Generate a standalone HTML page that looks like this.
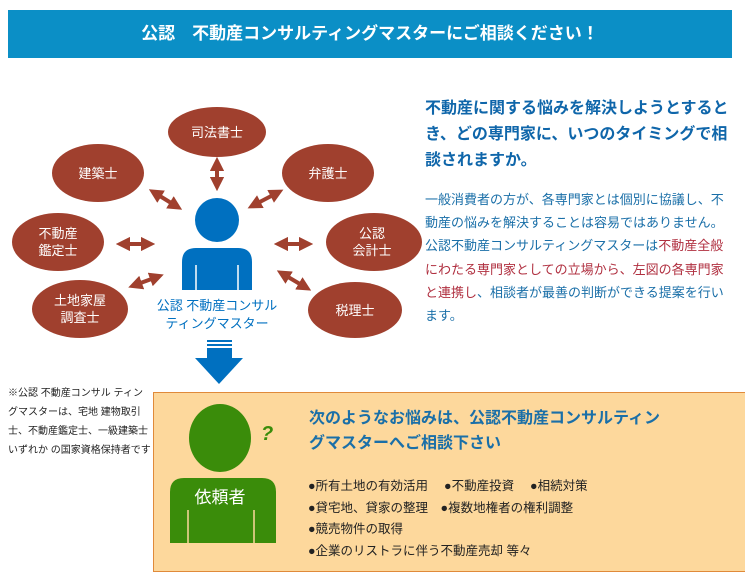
<!DOCTYPE html>
<html><head><meta charset="utf-8"><style>
body{margin:0;width:745px;height:584px;background:#fff;position:relative;overflow:hidden;font-family:"Liberation Sans","Noto Sans CJK JP",sans-serif}
.a{position:absolute;white-space:nowrap}
</style></head><body>
<div class="a" style="left:8px;top:10px;width:724px;height:48px;background:#0b8fc6;color:#fff;font-weight:bold;font-size:17px;line-height:48px;text-align:center">公認　不動産コンサルティングマスターにご相談ください！</div>
<svg class="a" style="left:0;top:0" width="745" height="584">
<defs><marker id="h" viewBox="0 0 10 10" refX="5" refY="5" markerWidth="3.6" markerHeight="3.6" orient="auto-start-reverse"><path d="M0,0L10,5L0,10z" fill="#a0402e"/></marker></defs>
<g fill="#a0402e">
<ellipse cx="217" cy="132" rx="49" ry="25"/>
<ellipse cx="98" cy="173" rx="46" ry="29"/>
<ellipse cx="328" cy="173" rx="46" ry="29"/>
<ellipse cx="58" cy="242" rx="46" ry="29"/>
<ellipse cx="374" cy="242" rx="48" ry="29"/>
<ellipse cx="80" cy="309" rx="48" ry="29"/>
<ellipse cx="355" cy="310" rx="47" ry="28"/>
</g>
<g stroke="#a0402e" stroke-width="4" marker-start="url(#h)" marker-end="url(#h)">
<line x1="217" y1="164" x2="217" y2="184"/>
<line x1="155" y1="193" x2="176" y2="206"/>
<line x1="254" y1="205" x2="277" y2="193"/>
<line x1="123" y1="244" x2="148" y2="244"/>
<line x1="281" y1="244" x2="306" y2="244"/>
<line x1="135" y1="285" x2="157" y2="277"/>
<line x1="283" y1="274" x2="305" y2="287"/>
</g>
<g font-size="13" fill="#fff" text-anchor="middle">
<text x="217" y="137">司法書士</text>
<text x="98" y="178">建築士</text>
<text x="328" y="178">弁護士</text>
<text x="58" y="238">不動産</text><text x="58" y="255">鑑定士</text>
<text x="372" y="238">公認</text><text x="372" y="255">会計士</text>
<text x="80" y="305">土地家屋</text><text x="80" y="322">調査士</text>
<text x="355" y="315">税理士</text>
</g>
<circle cx="217" cy="220" r="22" fill="#0070c0"/>
<path d="M182,290V262Q182,248 196,248H238Q252,248 252,262V290Z" fill="#0070c0"/>
<line x1="196" y1="265" x2="196" y2="290" stroke="#fff" stroke-width="1.5"/>
<line x1="238" y1="265" x2="238" y2="290" stroke="#fff" stroke-width="1.5"/>
<g font-size="13" fill="#0070c0" text-anchor="middle">
<text x="217" y="310">公認 不動産コンサル</text><text x="217" y="328">ティングマスター</text>
</g>
<rect x="207" y="340" width="25" height="2" fill="#0070c0"/>
<rect x="207" y="344" width="25" height="2" fill="#0070c0"/>
<rect x="207" y="348" width="25" height="12" fill="#0070c0"/>
<path d="M195,358H243L219,384Z" fill="#0070c0"/>
<rect x="153.5" y="392.5" width="600" height="179" fill="#fdd89c" stroke="#e08a3a"/>
<ellipse cx="220" cy="438" rx="31" ry="34" fill="#3a8c0a"/>
<path d="M170,543V492Q170,478 184,478H262Q276,478 276,492V543Z" fill="#3a8c0a"/>
<line x1="188" y1="510" x2="188" y2="543" stroke="#fdd89c" stroke-width="1.5"/>
<line x1="254" y1="510" x2="254" y2="543" stroke="#fdd89c" stroke-width="1.5"/>
<text x="220" y="503" font-size="17" fill="#fff" text-anchor="middle">依頼者</text>
<text x="261" y="440" font-size="20" font-weight="bold" fill="#3a8c0a" font-style="italic">?</text>
</svg>
<div class="a" style="left:425px;top:96px;font-size:16px;font-weight:bold;color:#0f66aa;line-height:26px">不動産に関する悩みを解決しようとすると<br>き、どの専門家に、いつのタイミングで相<br>談されますか。</div>
<div class="a" style="left:425px;top:188px;font-size:13px;color:#1a6fa8;line-height:23.2px">一般消費者の方が、各専門家とは個別に協議し、不<br>動産の悩みを解決することは容易ではありません。<br>公認不動産コンサルティングマスターは<span style="color:#b03040">不動産全般<br>にわたる専門家としての立場から、左図の各専門家<br>と連携し</span>、相談者が最善の判断ができる提案を行い<br>ます。</div>
<div class="a" style="left:8px;top:384px;font-size:10px;color:#222;line-height:19px">※公認 不動産コンサル ティン<br>グマスターは、宅地 建物取引<br>士、不動産鑑定士、一級建築士<br>いずれか の国家資格保持者です</div>
<div class="a" style="left:309px;top:406px;font-size:16px;font-weight:bold;color:#1a6fa8;line-height:25px">次のようなお悩みは、公認不動産コンサルティン<br>グマスターへご相談下さい</div>
<div class="a" style="left:308px;top:476px;font-size:12.5px;color:#222;line-height:21.5px">●所有土地の有効活用　 ●不動産投資　 ●相続対策<br>●貸宅地、貸家の整理　●複数地権者の権利調整<br>●競売物件の取得<br>●企業のリストラに伴う不動産売却 等々</div>
</body></html>
